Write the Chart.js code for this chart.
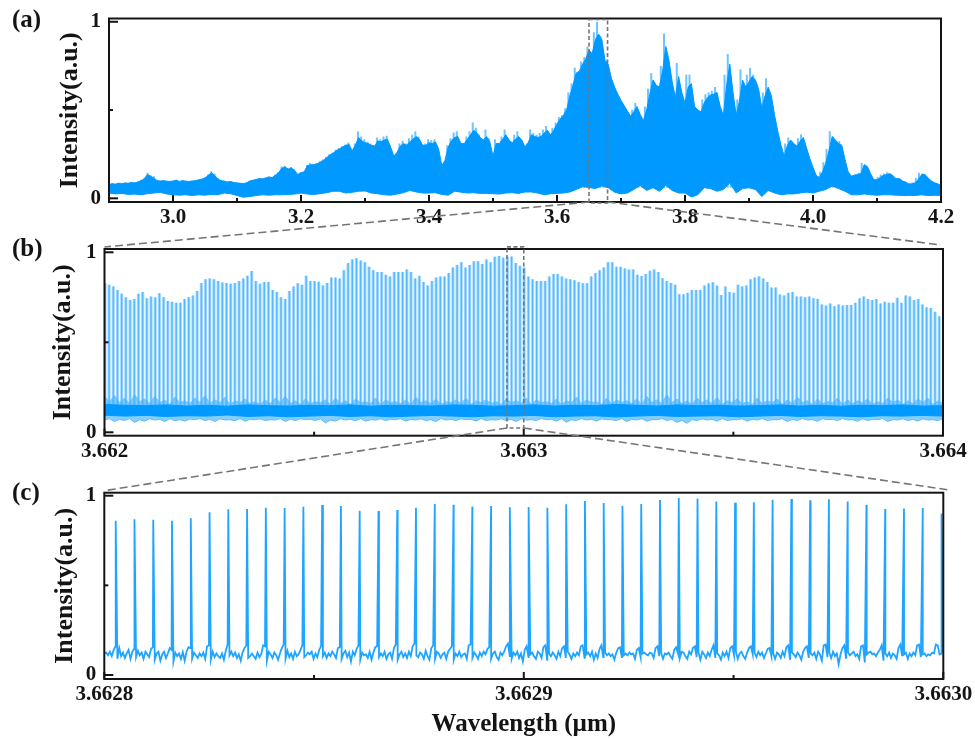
<!DOCTYPE html>
<html>
<head>
<meta charset="utf-8">
<title>Intensity spectra</title>
<script src="https://cdn.jsdelivr.net/npm/chart.js@4/dist/chart.umd.min.js"></script>
<style>
    html, body { margin: 0; padding: 0; background: #fff; overflow: hidden; }
    canvas { position: absolute; left: 0; top: 0; }
</style>
</head>
<body>
<canvas id="panelA" width="975" height="739"></canvas>
<canvas id="panelB" width="975" height="739"></canvas>
<canvas id="panelC" width="975" height="739"></canvas>
<script>
// ---------- tick values and labels ----------
const yTicks = [0, 0.5, 1];
const yTickLabels = ['0', '', '1'];
const aTicks = [3.0, 3.1, 3.2, 3.3, 3.4, 3.5, 3.6, 3.7, 3.8, 3.9, 4.0, 4.1, 4.2];
const aTickLabels = ['3.0', '', '3.2', '', '3.4', '', '3.6', '', '3.8', '', '4.0', '', '4.2'];
const bTicks = [3.662, 3.6625, 3.663, 3.6635, 3.664];
const bTickLabels = ['3.662', '', '3.663', '', '3.664'];
const cTicks = [3.6628, 3.66285, 3.6629, 3.66295, 3.663];
const cTickLabels = ['3.6628', '', '3.6629', '', '3.6630'];

// ---------- panel (a): spike tips and solid body every 0.005 um, lower edge every 0.01 um ----------
const aUpper = [
    .08,.085,.082,.088,.085,.09,.088,.092,.09,.095,
    .105,.115,.145,.13,.125,.105,.10,.103,.10,.098,
    .10,.105,.098,.102,.10,.097,.10,.103,.108,.112,
    .12,.135,.153,.14,.115,.105,.10,.095,.098,.092,
    .09,.088,.085,.09,.10,.105,.11,.115,.113,.118,
    .125,.12,.135,.15,.18,.185,.17,.178,.165,.13,
    .148,.14,.19,.2,.195,.2,.21,.22,.235,.25,
    .26,.275,.285,.295,.305,.316,.235,.31,.38,.35,
    .335,.32,.31,.30,.345,.335,.35,.354,.30,.23,
    .25,.31,.326,.31,.34,.36,.38,.35,.29,.31,
    .335,.33,.335,.28,.176,.20,.30,.34,.373,.38,
    .31,.30,.35,.38,.43,.40,.36,.335,.39,.34,
    .21,.335,.31,.35,.39,.34,.307,.36,.38,.33,
    .27,.31,.39,.37,.36,.37,.39,.41,.33,.40,
    .43,.46,.47,.51,.60,.65,.74,.70,.775,.80,
    .86,.78,.94,1.0,.92,.75,.785,.68,.62,.59,
    .56,.53,.50,.466,.50,.54,.48,.43,.52,.62,
    .71,.66,.63,.75,.934,.82,.68,.50,.766,.635,
    .5,.70,.70,.466,.50,.485,.56,.59,.60,.61,
    .63,.52,.45,.70,.818,.62,.41,.56,.73,.64,
    .70,.738,.70,.65,.44,.60,.68,.60,.48,.373,
    .30,.232,.31,.345,.32,.30,.34,.363,.29,.223,
    .17,.125,.115,.15,.204,.28,.38,.35,.32,.325,
    .22,.145,.125,.13,.139,.145,.20,.19,.14,.105,
    .105,.12,.135,.14,.148,.13,.112,.115,.10,.095,
    .082,.085,.09,.115,.145,.14,.12,.10,.09,.085,
    .073
];
const aSolid = [
    .078,.083,.08,.085,.082,.087,.085,.09,.087,.092,
    .10,.11,.135,.125,.115,.10,.098,.1,.097,.095,
    .098,.102,.096,.1,.097,.095,.098,.1,.104,.108,
    .115,.13,.145,.13,.11,.1,.097,.092,.095,.09,
    .087,.085,.083,.088,.098,.102,.107,.112,.11,.115,
    .12,.118,.13,.145,.17,.178,.165,.172,.158,.135,
    .145,.15,.185,.19,.19,.195,.205,.215,.23,.245,
    .255,.27,.28,.29,.3,.305,.27,.3,.345,.325,
    .315,.31,.30,.295,.325,.32,.33,.335,.29,.24,
    .26,.295,.31,.30,.32,.335,.35,.335,.30,.3,
    .315,.31,.32,.28,.185,.215,.29,.325,.345,.35,
    .31,.31,.335,.36,.385,.37,.345,.33,.35,.32,
    .24,.31,.31,.335,.36,.33,.315,.335,.35,.33,
    .29,.315,.36,.35,.345,.35,.37,.385,.36,.385,
    .42,.45,.47,.5,.58,.64,.71,.72,.76,.79,
    .84,.82,.9,.93,.9,.78,.76,.68,.63,.59,
    .555,.525,.495,.465,.49,.52,.475,.44,.5,.59,
    .67,.64,.63,.72,.86,.78,.66,.57,.69,.6,
    .54,.63,.65,.52,.5,.49,.54,.57,.585,.59,
    .6,.52,.47,.64,.76,.6,.47,.55,.67,.63,
    .66,.69,.67,.62,.51,.58,.63,.58,.47,.38,
    .3,.24,.3,.33,.31,.295,.325,.345,.285,.225,
    .175,.13,.118,.15,.2,.27,.35,.33,.31,.3,
    .22,.15,.125,.13,.135,.14,.19,.18,.14,.105,
    .105,.118,.13,.135,.14,.128,.11,.112,.098,.092,
    .08,.083,.088,.11,.135,.135,.115,.098,.088,.082,
    .072
];
const aLower = [
    .03,.025,.028,.022,.024,.02,.026,.03,.034,.025,
    .02,.018,.02,.016,.02,.018,.022,.02,.03,.026,
    .016,.006,.01,.016,.02,.018,.02,.02,.022,.024,
    .03,.024,.022,.026,.032,.04,.04,.03,.034,.04,
    .042,.03,.026,.02,.018,.024,.032,.045,.036,.03,
    .03,.032,.022,.018,.04,.035,.03,.032,.028,.028,
    .026,.024,.03,.032,.028,.036,.036,.03,.02,.026,
    .028,.03,.036,.05,.066,.062,.055,.07,.06,.035,
    .025,.03,.05,.073,.045,.06,.04,.073,.045,.03,
    .03,.008,.02,.06,.055,.04,.05,.088,.03,.055,
    .06,.05,.01,.045,.03,.02,.025,.025,.03,.035,
    .03,.04,.05,.07,.055,.04,.02,.02,.025,.02,
    .018,.02,.02,.018,.016,.017,.016,.02,.016,.017,
    .017
];

// ---------- panel (b): comb heights and the noise floor ----------
const bPeaks = [
    .828,.82,.81,.79,.77,.75,.735,.74,.77,.78,
    .745,.755,.75,.772,.75,.73,.725,.72,.72,.74,
    .75,.76,.785,.83,.85,.855,.85,.84,.832,.83,
    .825,.83,.84,.855,.87,.896,.84,.825,.835,.835,
    .79,.78,.75,.74,.785,.81,.828,.82,.87,.84,
    .84,.837,.815,.83,.86,.86,.855,.9,.94,.96,
    .967,.955,.945,.92,.90,.89,.89,.875,.865,.89,
    .89,.89,.905,.89,.855,.87,.835,.815,.84,.86,
    .865,.865,.885,.915,.93,.944,.915,.93,.95,.95,
    .935,.96,.945,.975,.98,.97,.975,.976,.94,.925,
    .915,.865,.85,.84,.84,.84,.865,.88,.88,.865,
    .855,.85,.845,.835,.828,.828,.865,.885,.9,.915,
    .945,.945,.92,.92,.91,.905,.905,.875,.868,.88,
    .898,.905,.89,.856,.84,.83,.82,.767,.767,.775,
    .79,.79,.79,.815,.828,.833,.815,.763,.81,.78,
    .775,.82,.81,.815,.85,.86,.865,.855,.835,.805,
    .804,.765,.76,.775,.78,.755,.755,.75,.755,.745,
    .74,.71,.705,.715,.70,.71,.705,.707,.707,.72,
    .745,.754,.74,.735,.74,.715,.725,.72,.72,.748,
    .72,.76,.755,.735,.74,.71,.695,.69,.67,.645
];
const bNoiseTop = [
    .2,.17,.205,.165,.19,.16,.21,.17,.185,.16,.2,.165,.18,.155,.195,.165,.175,.16,.19,.165,
    .205,.16,.18,.165,.195,.155,.175,.165,.185,.16,.17,.155,.18,.16,.19,.165,.2,.16,.175,.155,
    .185,.16,.17,.165,.18,.155,.19,.16,.175,.155,.185,.165,.17,.16,.19,.155,.18,.165,.17,.16,
    .18,.155,.195,.165,.175,.16,.185,.155,.17,.165,.18,.16,.19,.155,.175,.165,.18,.16,.17,.155,
    .185,.165,.175,.16,.19,.155,.18,.165,.17,.16,.185,.155,.175,.165,.195,.16,.18,.165,.17,.155,
    .19,.16,.18,.165,.175,.16,.185,.155,.2,.165,.18,.16,.21,.165,.185,.16,.175,.155,.19,.165,
    .18,.16,.195,.155,.175,.165,.185,.16,.17,.155,.19,.16,.175,.165,.185,.155,.18,.16,.195,.165,
    .175,.155,.185,.16,.17,.165,.19,.155,.18,.16,.175,.165,.185,.155,.17,.16,.19,.165,.18,.155,
    .175,.16,.185,.165,.19,.155,.175,.16
];
const bNoiseBottom = [
    .07,.075,.06,.072,.065,.076,.055,.07,.062,.075,.068,.072,.06,.076,.065,.07,.062,.074,.07,.076,
    .065,.072,.06,.075,.068,.07,.064,.076,.062,.072,.07,.075,.065,.07,.068,.076,.06,.072,.065,.075,
    .07,.072,.065,.075,.052,.068,.062,.075,.068,.072,.064,.076,.062,.07,.068,.075,.065,.072,.07,.076,
    .062,.072,.068,.075,.065,.07,.06,.076,.068,.072,.065,.075,.07,.072,.062,.076,.065,.07,.068,.075,
    .065,.072,.06,.075,.068,.07,.065,.076,.07,.072,.062,.075,.056,.07,.065,.076,.068,.072,.062,.075,
    .07,.07,.065,.076,.06,.072,.068,.075,.062,.07,.07,.076,.065,.072,.055,.066,.05,.07,.065,.075,
    .068,.072,.062,.076,.065,.07,.07,.075,.062,.072,.068,.076,.065,.07,.07,.075,.06,.072,.065,.076,
    .068,.07,.062,.075,.07,.072,.065,.076,.068,.07,.062,.075,.065,.072,.07,.076,.06,.07,.068,.075,
    .065,.072,.062,.075,.068,.07,.065,.076
];
const bCoreTop = [
    .155,.15,.148,.152,.146,.15,.145,.152,.148,.146,.15,.147,.152,.145,.15,.148,.146,.152,.15,.145,
    .148,.152,.146,.15,.148,.155,.15,.146,.152,.148,.15,.146,.148,.152,.146,.15,.145,.15,.148,.152,
    .146,.148
];
const bCoreBottom = [
    .095,.09,.094,.088,.092,.09,.096,.088,.092,.086,.09,.094,.088,.092,.086,.09,.094,.09,.086,.092,
    .09,.094,.086,.09,.092,.085,.09,.094,.088,.09,.092,.086,.09,.094,.088,.092,.09,.086,.092,.09,
    .094,.09
];

// ---------- panel (c): 45 lines, positions as offset from 3.6628 in 1e-6 um ----------
const cPeakOffsets = [
    2.72,7.19,11.67,16.14,20.62,25.09,29.56,34.04,38.51,42.99,
    47.46,51.93,56.41,60.88,65.36,69.83,74.30,78.78,83.25,87.73,
    92.20,96.67,101.15,105.62,110.10,114.57,119.04,123.52,127.99,132.47,
    136.94,141.41,145.89,150.36,154.84,159.31,163.78,168.26,172.73,177.21,
    181.68,186.15,190.63,195.10,199.58
];
const cPeaks = [
    .86,.868,.866,.86,.874,.907,.924,.926,.933,.931,
    .939,.948,.942,.916,.914,.92,.933,.954,.95,.939,
    .942,.935,.937,.933,.952,.97,.959,.944,.954,.976,
    .987,.985,.968,.961,.963,.978,.981,.974,.98,.968,
    .95,.926,.929,.931,.90
];
const cNoise = [
    .118,.125,.11,.13,.105,.14,.16,.09,.15,.105,
    .125,.095,.12,.14,.09,.13,.145,.10,.135,.11,
    .125,.09,.13,.115,.10,.145,.155,.085,.12,.13,
    .08,.115,.13,.095,.12,.15,.14,.075,.125,.105,
    .12,.09,.128,.08,.13,.155,.15,.09,.125,.11,
    .095,.12,.105,.125,.09,.16,.165,.085,.13,.1,
    .12,.105,.095,.12,.085,.135,.17,.11,.13,.105,
    .125,.095,.115,.08,.125,.15,.165,.095,.105,.12,
    .105,.09,.125,.1,.115,.165,.16,.08,.13,.115,
    .095,.125,.11,.085,.12,.15,.17,.09,.135,.1,
    .12,.09,.13,.105,.115,.14,.165,.1,.11,.125,
    .115,.13,.09,.12,.1,.14,.16,.105,.125,.095,
    .12,.105,.13,.115,.095,.15,.155,.09,.12,.135,
    .1,.125,.075,.13,.11,.145,.165,.085,.125,.11,
    .115,.095,.13,.085,.125,.155,.16,.1,.12,.105,
    .13,.09,.115,.125,.09,.15,.17,.085,.115,.13,
    .1,.12,.095,.13,.105,.16,.175,.11,.1,.125,
    .115,.09,.135,.105,.085,.15,.165,.09,.13,.12,
    .095,.115,.125,.09,.13,.145,.16,.085,.12,.105,
    .13,.1,.115,.12,.09,.165,.17,.095,.125,.11,
    .09,.125,.105,.13,.115,.145,.155,.09,.12,.13,
    .1,.085,.125,.11,.13,.16,.175,.105,.09,.125,
    .11,.13,.095,.12,.075,.14,.16,.1,.115,.125,
    .105,.09,.13,.12,.095,.155,.165,.085,.12,.105,
    .125,.11,.09,.13,.105,.15,.16,.095,.13,.115,
    .09,.12,.105,.125,.11,.16,.165,.095,.115,.125,
    .105,.13,.085,.12,.095,.145,.165,.1,.125,.11,
    .12,.105,.115,.085,.125,.15,.155,.095,.11,.12,
    .11,.125,.115,.12,.09,.14,.15,.1,.12,.125,
    .115,.11,.125,.12,.095,.15,.16,.105,.125,.09,
    .12,.115,.125,.105,.09,.14,.155,.12,.095,.13,
    .125,.105,.09,.13,.115,.15,.16,.1,.125,.085,
    .13,.115,.095,.125,.105,.14,.165,.095,.12,.11,
    .085,.125,.105,.13,.095,.15,.16,.11,.13,.09,
    .12,.13,.105,.09,.125,.15,.16,.115,.125,.1,
    .13,.11,.125,.095,.12,.145,.15,.105,.12,.09,
    .125,.115,.095,.13,.105,.155,.165,.085,.125,.115,
    .1,.125,.11,.085,.13,.15,.16,.095,.12,.11,
    .125,.09,.13,.115,.08,.165,.17,.1,.125,.095,
    .13,.105,.12,.06,.115,.15,.165,.09,.125,.11,
    .12,.13,.105,.115,.09,.16,.165,.07,.115,.125,
    .13,.115,.12,.105,.125,.14,.165,.08,.12,.105,
    .125,.095,.12,.11,.09,.15,.17,.105,.115,.125,
    .09,.12,.105,.125,.11,.165,.17,.1,.115,.12,
    .105,.115,.11,.125,.12,.17,.165,.115,.12,.13
];

const INK = '#141414';
const FONT = '"Liberation Serif", "Times New Roman", serif';

// samples sit on an even wavelength grid across a range
function onGrid(values, min, max) {
    return values.map((y, i) => ({ x: min + (max - min) * i / (values.length - 1), y: y }));
}

// vertical lines from a floor level up to each height, split by gaps
function combPoints(heights, min, max, floor) {
    const step = (max - min) / heights.length;
    const pts = [];
    heights.forEach((h, i) => {
        const x = min + step * i + step * 0.1;
        pts.push({ x: x, y: floor }, { x: x, y: h }, { x: x, y: null });
    });
    return pts;
}

// draws the frame and the inward ticks, and the panel letter
const framePlugin = {
    id: 'frame',
    afterDatasetsDraw(chart, args, opts) {
        const { ctx, chartArea: area } = chart;
        const xs = chart.scales.x, ys = chart.scales.y;
        ctx.save();
        ctx.strokeStyle = INK;
        ctx.lineWidth = 2;
        xs.ticks.forEach((t, i) => {
            const px = xs.getPixelForValue(t.value);
            const len = opts.xLabels[i] ? opts.xLong : 4;
            ctx.beginPath();
            ctx.moveTo(px, area.bottom);
            ctx.lineTo(px, area.bottom - len);
            ctx.stroke();
        });
        ys.ticks.forEach((t, i) => {
            const py = ys.getPixelForValue(t.value);
            const len = yTickLabels[i] ? 9 : 4;
            ctx.beginPath();
            ctx.moveTo(area.left, py);
            ctx.lineTo(area.left + len, py);
            ctx.stroke();
        });
        ctx.strokeRect(area.left, area.top, area.right - area.left, area.bottom - area.top);
        ctx.fillStyle = INK;
        ctx.font = 'bold 25px ' + FONT;
        ctx.textBaseline = 'middle';
        ctx.textAlign = 'left';
        ctx.fillText(opts.letter, 12, opts.letterY);
        ctx.restore();
    }
};

// panel options; left/width of the y axis pin the plot box to the page
function panelOptions(p) {
    return {
        responsive: false,
        animation: false,
        events: [],
        layout: { padding: { left: p.axisLeft, right: 975 - p.right, top: p.top, bottom: 739 - p.bottom - p.xHeight } },
        plugins: {
            legend: { display: false },
            tooltip: { enabled: false },
            frame: { letter: p.letter, letterY: p.letterY, xLabels: p.xLabels, xLong: 7 }
        },
        scales: {
            x: {
                type: 'linear',
                min: p.xMin,
                max: p.xMax,
                afterFit(s) {
                    s.height = p.xHeight;
                    // edge labels must not push the plot box in
                    s.paddingLeft = 0;
                    s.paddingRight = 0;
                },
                afterBuildTicks(s) { s.ticks = p.xTicks.map(v => ({ value: v })); },
                grid: { display: false, drawTicks: false },
                border: { display: false },
                title: {
                    display: !!p.xTitle,
                    text: p.xTitle,
                    color: INK,
                    padding: 0,
                    font: { family: FONT, size: 25, weight: 'bold', lineHeight: 1 }
                },
                ticks: {
                    autoSkip: false,
                    maxRotation: 0,
                    padding: 5,
                    color: INK,
                    font: { family: FONT, size: 21, weight: 'bold', lineHeight: 1 },
                    callback(v, i) { return p.xLabels[i]; }
                }
            },
            y: {
                type: 'linear',
                min: p.yMin,
                max: p.yMax,
                afterFit(s) { s.width = p.left - p.axisLeft; },
                afterBuildTicks(s) { s.ticks = yTicks.map(v => ({ value: v })); },
                grid: { display: false, drawTicks: false },
                border: { display: false },
                title: {
                    display: true,
                    text: 'Intensity(a.u.)',
                    color: INK,
                    padding: 0,
                    font: { family: FONT, size: 26, weight: 'bold' }
                },
                ticks: {
                    autoSkip: false,
                    padding: 8,
                    color: INK,
                    font: { family: FONT, size: 21, weight: 'bold', lineHeight: 1 },
                    callback(v, i) { return yTickLabels[i]; }
                }
            }
        }
    };
}

const lineDefaults = { pointRadius: 0, tension: 0, parsing: false };

// ---------- panel (a), first dataset ends up on top ----------
const chartA = new Chart(document.getElementById('panelA'), {
    type: 'line',
    plugins: [framePlugin],
    data: {
        datasets: [
            Object.assign({}, lineDefaults, {
                data: onGrid(aSolid, 2.9, 4.2),
                borderColor: '#0099ff',
                borderWidth: 1,
                backgroundColor: '#0099ff',
                fill: '+1'
            }),
            Object.assign({}, lineDefaults, {
                data: onGrid(aLower, 2.9, 4.2),
                borderColor: '#0099ff',
                borderWidth: 1,
                fill: false
            }),
            Object.assign({}, lineDefaults, {
                data: combPoints(aUpper, 2.9, 4.2, 0.06),
                borderColor: '#6cc5ff',
                borderWidth: 2,
                spanGaps: false,
                fill: false
            })
        ]
    },
    options: panelOptions({
        letter: '(a)', letterY: 21,
        axisLeft: 55, left: 109, right: 941, top: 17, bottom: 202, xHeight: 40,
        xMin: 2.9, xMax: 4.2, yMin: -0.0208, yMax: 1.0185,
        xTicks: aTicks, xLabels: aTickLabels
    })
});

// ---------- panel (b) ----------
const chartB = new Chart(document.getElementById('panelB'), {
    type: 'line',
    plugins: [framePlugin],
    data: {
        datasets: [
            Object.assign({}, lineDefaults, {
                data: onGrid(bCoreTop, 3.662, 3.664),
                borderColor: '#0099ff',
                borderWidth: 1,
                backgroundColor: '#0099ff',
                fill: '+1'
            }),
            Object.assign({}, lineDefaults, {
                data: onGrid(bCoreBottom, 3.662, 3.664),
                borderColor: '#0099ff',
                borderWidth: 1,
                fill: false
            }),
            Object.assign({}, lineDefaults, {
                data: onGrid(bNoiseTop, 3.662, 3.664),
                borderColor: 'rgba(90,185,255,0.7)',
                borderWidth: 1,
                backgroundColor: 'rgba(70,180,255,0.65)',
                fill: '+1'
            }),
            Object.assign({}, lineDefaults, {
                data: onGrid(bNoiseBottom, 3.662, 3.664),
                borderColor: '#66c0ff',
                borderWidth: 1,
                fill: false
            }),
            Object.assign({}, lineDefaults, {
                data: combPoints(bPeaks, 3.662, 3.664, 0.12),
                borderColor: '#55b9ff',
                borderWidth: 1.5,
                spanGaps: false,
                fill: false
            }),
            Object.assign({}, lineDefaults, {
                data: combPoints(bPeaks, 3.662, 3.664, 0.12),
                borderColor: '#b5e0ff',
                borderWidth: 3.4,
                spanGaps: false,
                fill: false
            })
        ]
    },
    options: panelOptions({
        letter: '(b)', letterY: 250,
        axisLeft: 48, left: 104.5, right: 943, top: 249, bottom: 435.7, xHeight: 40,
        xMin: 3.662, xMax: 3.664, yMin: -0.0189, yMax: 1.0183,
        xTicks: bTicks, xLabels: bTickLabels
    })
});

// ---------- panel (c) ----------
const cPeakPoints = cPeakOffsets.map((o, i) => ({ x: 3.6628 + o * 1e-6, y: cPeaks[i] }));
const cPoints = onGrid(cNoise, 3.6628, 3.663).concat(cPeakPoints).sort((a, b) => a.x - b.x);

// dashed zoom boxes and the lines leading to the next panel
const zoomPlugin = {
    id: 'zoomGuides',
    afterDraw(chart) {
        const { ctx } = chart;
        const a = chartA, b = chartB;
        const ax0 = a.scales.x.getPixelForValue(3.65), ax1 = a.scales.x.getPixelForValue(3.679);
        const bx0 = b.scales.x.getPixelForValue(3.66296), bx1 = b.scales.x.getPixelForValue(3.663);
        const by0 = b.scales.y.getPixelForValue(1.03), by1 = b.scales.y.getPixelForValue(0.024);
        ctx.save();
        ctx.strokeStyle = '#757575';
        ctx.lineWidth = 1.6;
        ctx.setLineDash([4, 2.5]);
        ctx.strokeRect(ax0, a.chartArea.top + 1, ax1 - ax0, a.chartArea.bottom - a.chartArea.top);
        ctx.strokeRect(bx0, by0, bx1 - bx0, by1 - by0);
        ctx.setLineDash([8, 4]);
        const guides = [
            [ax0, a.chartArea.bottom, b.chartArea.left, b.chartArea.top - 2],
            [ax1, a.chartArea.bottom, a.chartArea.right, b.chartArea.top - 4],
            [bx0, by1, chart.chartArea.left, chart.chartArea.top - 2],
            [bx1, by1, chart.chartArea.right + 4, chart.chartArea.top - 3]
        ];
        guides.forEach(g => {
            ctx.beginPath();
            ctx.moveTo(g[0], g[1]);
            ctx.lineTo(g[2], g[3]);
            ctx.stroke();
        });
        ctx.restore();
    }
};

new Chart(document.getElementById('panelC'), {
    type: 'line',
    plugins: [framePlugin, zoomPlugin],
    data: {
        datasets: [
            Object.assign({}, lineDefaults, {
                data: cPoints,
                borderColor: '#1fa5ff',
                borderWidth: 1.8,
                fill: false
            })
        ]
    },
    options: panelOptions({
        letter: '(c)', letterY: 494,
        axisLeft: 50, left: 104.3, right: 943.3, top: 492.7, bottom: 679, xHeight: 58.5,
        xMin: 3.6628, xMax: 3.663, yMin: -0.0223, yMax: 1.0167,
        xTicks: cTicks, xLabels: cTickLabels,
        xTitle: 'Wavelength (µm)'
    })
});
</script>
</body>
</html>
